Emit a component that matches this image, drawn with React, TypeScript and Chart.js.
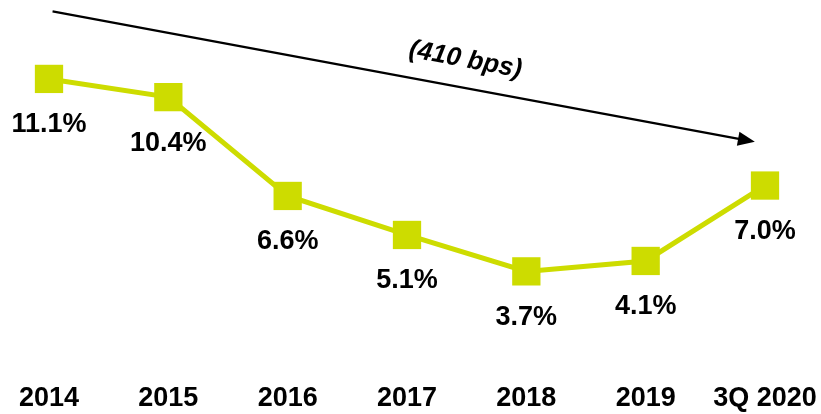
import React, { useEffect, useRef } from "react";
import { Chart, registerables } from "chart.js";

Chart.register(...registerables);

const categories = ["2014", "2015", "2016", "2017", "2018", "2019", "3Q 2020"];
const marginValues = [11.1, 10.4, 6.6, 5.1, 3.7, 4.1, 7.0];
const valueLabels = ["11.1%", "10.4%", "6.6%", "5.1%", "3.7%", "4.1%", "7.0%"];
const arrowText = "(410 bps)";
// annotation anchors in data space: [category index, value]
const arrowStart = [0.03, 13.7];
const arrowEnd = [5.915, 8.68];
const arrowTextAt = [3.49, 11.83];

const LIME = "#CDDC00";
const FONT = "'Liberation Sans', Arial, Helvetica, sans-serif";

const annotationPlugin = {
  id: "annotations",
  afterDatasetsDraw(chart: any) {
    const ctx = chart.ctx as CanvasRenderingContext2D;
    const xs = chart.scales.x;
    const ys = chart.scales.y;
    const meta = chart.getDatasetMeta(0);
    ctx.save();
    // value labels
    ctx.fillStyle = "#000";
    ctx.font = `bold 27px ${FONT}`;
    ctx.textAlign = "center";
    ctx.textBaseline = "middle";
    meta.data.forEach((pt: any, i: number) => {
      ctx.fillText(valueLabels[i], pt.x, pt.y + 46);
    });
    // arrow
    const x1 = xs.getPixelForValue(arrowStart[0]);
    const y1 = ys.getPixelForValue(arrowStart[1]);
    const x2 = xs.getPixelForValue(arrowEnd[0]);
    const y2 = ys.getPixelForValue(arrowEnd[1]);
    const ang = Math.atan2(y2 - y1, x2 - x1);
    const headLen = 17;
    const headW = 7;
    ctx.strokeStyle = "#000";
    ctx.lineWidth = 2.2;
    ctx.beginPath();
    ctx.moveTo(x1, y1);
    ctx.lineTo(x2 - Math.cos(ang) * headLen * 0.8, y2 - Math.sin(ang) * headLen * 0.8);
    ctx.stroke();
    ctx.beginPath();
    ctx.moveTo(x2, y2);
    const bx = x2 - Math.cos(ang) * headLen;
    const by = y2 - Math.sin(ang) * headLen;
    ctx.lineTo(bx + Math.sin(ang) * headW, by - Math.cos(ang) * headW);
    ctx.lineTo(bx - Math.sin(ang) * headW, by + Math.cos(ang) * headW);
    ctx.closePath();
    ctx.fill();
    // arrow text
    const tx = xs.getPixelForValue(arrowTextAt[0]);
    const ty = ys.getPixelForValue(arrowTextAt[1]);
    ctx.translate(tx, ty);
    ctx.rotate(ang);
    ctx.font = `italic bold 26px ${FONT}`;
    ctx.fillText(arrowText, 0, 0);
    ctx.restore();
  },
};

export default function App() {
  const ref = useRef<HTMLCanvasElement>(null);
  useEffect(() => {
    if (!ref.current) return;
    const chart = new Chart(ref.current, {
      type: "line",
      data: {
        labels: categories,
        datasets: [
          {
            data: marginValues,
            borderColor: LIME,
            backgroundColor: LIME,
            borderWidth: 5,
            tension: 0,
            pointStyle: "rect",
            pointRadius: 20,
            pointHoverRadius: 20,
            pointBackgroundColor: LIME,
            pointBorderColor: LIME,
            pointBorderWidth: 0,
            clip: false as any,
          },
        ],
      },
      options: {
        responsive: false,
        animation: false,
        events: [],
        layout: { autoPadding: false, padding: { left: 49, right: 56, top: 3.5, bottom: -16.5 } },
        plugins: {
          legend: { display: false },
          tooltip: { enabled: false },
          title: { display: false },
        },
        scales: {
          x: {
            offset: false,
            grid: { display: false, drawTicks: false },
            border: { display: false },
            ticks: {
              color: "#000",
              padding: 0,
              maxRotation: 0,
              autoSkip: false,
              font: { family: FONT, size: 27, weight: "bold", lineHeight: 2.33 },
            },
          },
          y: {
            display: false,
            min: 0,
            max: 14,
          },
        },
      },
      plugins: [annotationPlugin],
    });
    return () => chart.destroy();
  }, []);
  return (
    <div style={{ position: "fixed", left: 0, top: 0, width: 821, height: 414, background: "#fff" }}>
      <canvas ref={ref} width={821} height={414} />
    </div>
  );
}
